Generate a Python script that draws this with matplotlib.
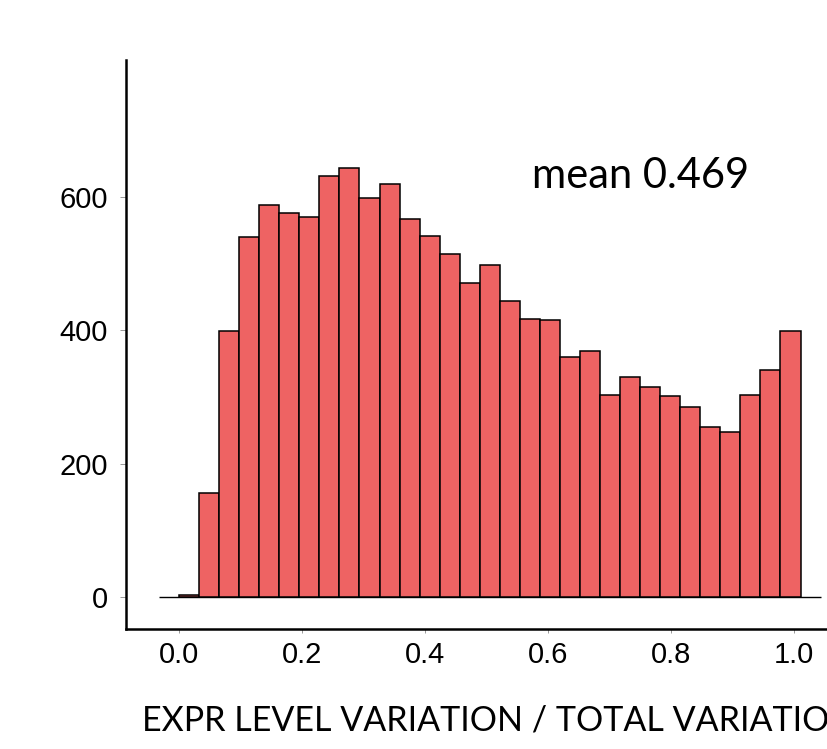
import numpy as np
import matplotlib
matplotlib.use('Agg')
import matplotlib.pyplot as plt

plt.rcParams['font.family'] = ['Liberation Sans', 'DejaVu Sans']

# histogram counts, one per bin, starting at 0.0
counts = [3, 156, 398, 540, 588, 576, 570, 631, 642, 598, 618,
          567, 541, 514, 471, 498, 443, 417, 415, 359, 369, 303,
          330, 315, 301, 284, 254, 247, 303, 340, 398]
bin_width = 0.0326
bin_start = 0.0
mean_val = 0.469

x_ticks = [0.0, 0.2, 0.4, 0.6, 0.8, 1.0]
y_ticks = [0, 200, 400, 600]
xlabel = 'EXPR LEVEL VARIATION / TOTAL VARIATION'

edges = bin_start + bin_width * np.arange(len(counts) + 1)

fig = plt.figure(figsize=(8.28, 7.49), dpi=100)
ax = fig.add_axes([0.1522, 0.1602, 0.8478, 0.7597])

ax.bar(edges[:-1], counts, width=bin_width, align='edge',
       color='#EE6363', edgecolor='black', linewidth=1.1, zorder=2)
# baseline under the bars, one bin wider on each side
ax.hlines(0, edges[0] - bin_width, edges[-1] + bin_width,
          color='black', linewidth=1.0, zorder=1)

ax.set_xlim(-0.0862, 1.0553)
ax.set_ylim(-47.9, 804.5)

for s in ['top', 'right']:
    ax.spines[s].set_visible(False)
for s in ['left', 'bottom']:
    ax.spines[s].set_linewidth(1.8)
    ax.spines[s].set_color('black')

ax.set_xticks(x_ticks)
ax.set_xticklabels(['%.1f' % t for t in x_ticks])
ax.set_yticks(y_ticks)
ax.tick_params(axis='y', length=4.3, width=0.6, color='#888888',
               labelsize=21, pad=8.5)
ax.tick_params(axis='x', length=3.2, width=0.6, color='#888888',
               labelsize=21, pad=5.5)

ax.text(0.574, 612, 'mean %.3f' % mean_val, family=['Lato', 'DejaVu Sans'],
        fontsize=30, va='baseline', ha='left')

fig.text(142 / 828, (749 - 730) / 749, xlabel, family=['Lato', 'DejaVu Sans'],
         fontsize=24.5, va='baseline', ha='left')

fig.savefig('out.png', dpi=100)
